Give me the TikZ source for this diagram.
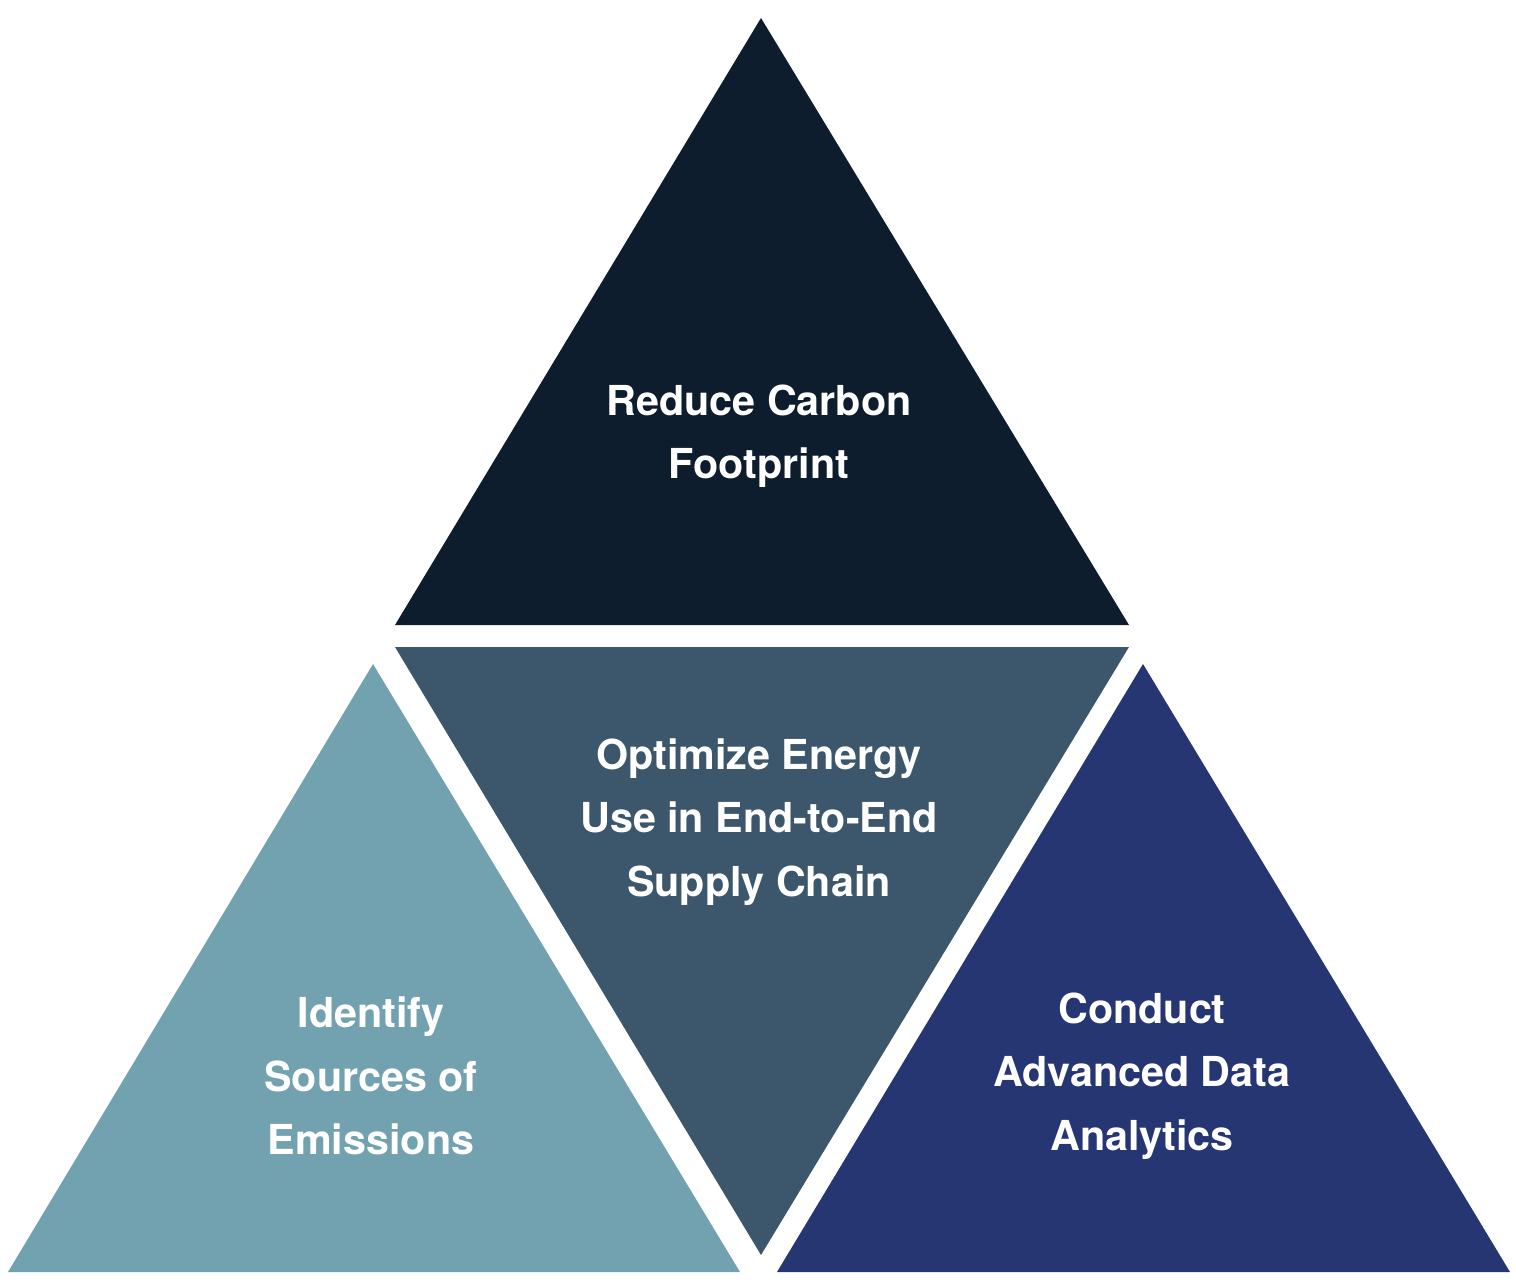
\documentclass[tikz,border=0pt]{standalone}
\usepackage{fontspec}
\setmainfont{TeX Gyre Heros}
\definecolor{topfill}{HTML}{0D1D2D}
\definecolor{midfill}{HTML}{3C566B}
\definecolor{leftfill}{HTML}{72A2B0}
\definecolor{rightfill}{HTML}{263673}
\begin{document}
\begin{tikzpicture}[
    x=0.02cm, y=-0.02cm,
    label/.style={text=white, align=center, font={\bfseries\fontsize{23.5}{36}\selectfont}}
  ]
  \useasboundingbox (0,0) rectangle (1516,1288);
  % triangles
  \fill[topfill] (761,18) -- (1129,625) -- (395,625) -- cycle;
  \fill[midfill] (395,647) -- (1129,647) -- (761,1255) -- cycle;
  \fill[leftfill] (373,664) -- (740,1272) -- (8,1272) -- cycle;
  \fill[rightfill] (1143,664) -- (1510,1272) -- (777,1272) -- cycle;
  % labels
  \node[label] (carbon) at (759,436) {Reduce Carbon\\Footprint};
  \node[label] (energy) at (759,822) {Optimize Energy\\Use in End-to-End\\Supply Chain};
  \node[label] (sources) at (371,1076) {Identify\\Sources of\\Emissions};
  \node[label] (analytics) at (1142,1076) {Conduct\\Advanced Data\\Analytics};
\end{tikzpicture}
\end{document}
